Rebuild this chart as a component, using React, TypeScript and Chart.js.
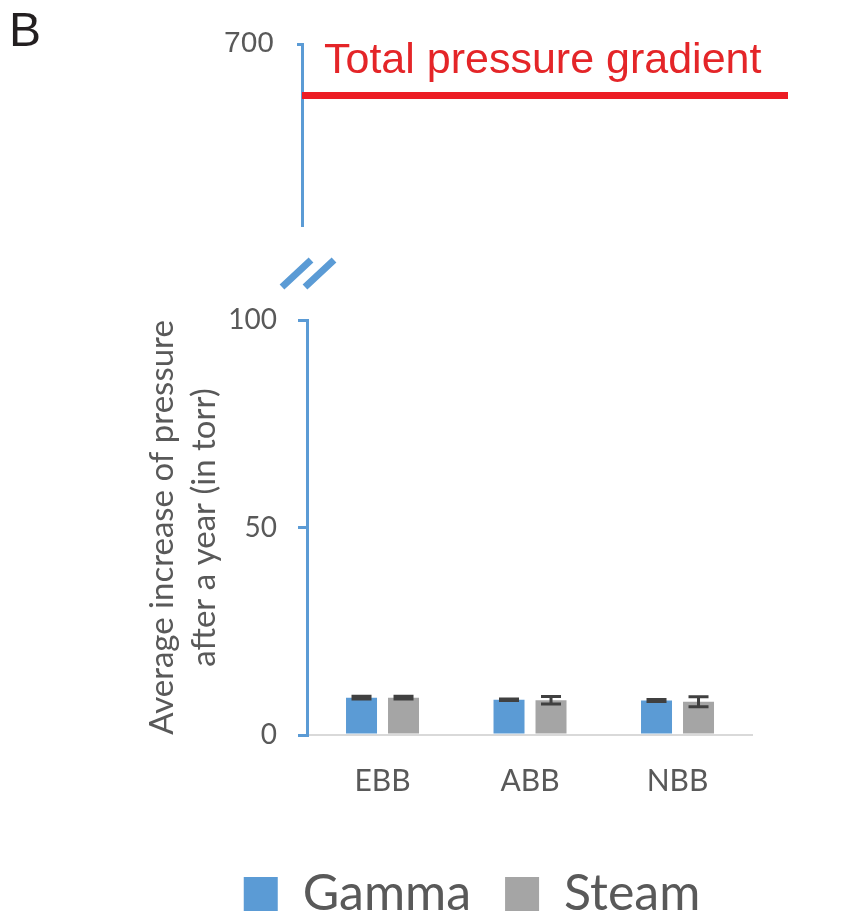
import React, { useEffect, useRef } from 'react';
import { Chart, registerables } from 'chart.js';

Chart.register(...registerables);

// ---- data ----
const categories = ['EBB', 'ABB', 'NBB'];
const seriesNames = ['Gamma', 'Steam'];
const gammaValues = [9.0, 8.5, 8.3];
const steamValues = [9.0, 8.4, 8.0];
const gammaErrors = [0.35, 0.2, 0.25];
const steamErrors = [0.35, 0.9, 1.2];
const lowerTicks = [0, 50, 100];
const upperTicks = [700];
const upperRange = [656, 700];
const gradientValue = 687.5;
const gradientLabel = 'Total pressure gradient';
const yTitle = ['Average increase of pressure', 'after a year (in torr)'];
const panelLabel = 'B';

// ---- styles ----
const BLUE = '#5B9BD5';
const GRAY = '#A5A5A5';
const TEXT = '#595959';
const RED = '#EC1C24';
const ERR = '#404040';

const errorSets = [gammaErrors, steamErrors];

const errorBarPlugin = {
  id: 'errorBars',
  afterDatasetsDraw(chart: any) {
    const ctx = chart.ctx;
    const y = chart.scales.y;
    chart.data.datasets.forEach((ds: any, di: number) => {
      const meta = chart.getDatasetMeta(di);
      const errs = errorSets[di];
      meta.data.forEach((bar: any, i: number) => {
        const v = ds.data[i].y;
        const e = errs[i];
        const top = y.getPixelForValue(v + e);
        const bot = y.getPixelForValue(v - e);
        ctx.save();
        ctx.strokeStyle = ERR;
        ctx.lineWidth = 3;
        ctx.beginPath();
        ctx.moveTo(bar.x, top);
        ctx.lineTo(bar.x, bot);
        ctx.moveTo(bar.x - 10, top);
        ctx.lineTo(bar.x + 10, top);
        ctx.moveTo(bar.x - 10, bot);
        ctx.lineTo(bar.x + 10, bot);
        ctx.stroke();
        ctx.restore();
      });
    });
  },
};

const gradientPlugin = {
  id: 'gradientDecor',
  afterDraw(chart: any) {
    const { ctx, chartArea, scales } = chart;
    const yPix = scales.y.getPixelForValue(gradientValue);
    ctx.save();
    ctx.fillStyle = '#E42528';
    ctx.font = '43px "Liberation Sans", Arial, sans-serif';
    ctx.textBaseline = 'alphabetic';
    ctx.textAlign = 'left';
    ctx.fillText(gradientLabel, chartArea.left + 22, yPix - 22);
    // axis break marks
    const L = chartArea.left;
    const B = chartArea.bottom;
    ctx.strokeStyle = BLUE;
    ctx.lineWidth = 7;
    ctx.lineCap = 'butt';
    ctx.beginPath();
    ctx.moveTo(L - 20, B + 62);
    ctx.lineTo(L + 9, B + 35);
    ctx.moveTo(L + 3, B + 62);
    ctx.lineTo(L + 32, B + 35);
    ctx.stroke();
    ctx.restore();
  },
};

export default function App() {
  const topRef = useRef<HTMLCanvasElement>(null);
  const botRef = useRef<HTMLCanvasElement>(null);

  useEffect(() => {
    const topChart = new Chart(topRef.current as HTMLCanvasElement, {
      type: 'line',
      data: {
        datasets: [
          {
            label: gradientLabel,
            data: [
              { x: 0, y: gradientValue },
              { x: 1, y: gradientValue },
            ],
            borderColor: RED,
            borderWidth: 7,
            pointRadius: 0,
            fill: false,
          },
        ],
      },
      options: {
        responsive: false,
        animation: false,
        layout: { padding: { left: 141, right: 75, top: 44, bottom: 75 } },
        plugins: { legend: { display: false }, tooltip: { enabled: false } },
        scales: {
          x: { type: 'linear', min: 0, max: 1, display: false },
          y: {
            min: upperRange[0],
            max: upperRange[1],
            afterBuildTicks: (s: any) => {
              s.ticks = upperTicks.map((v) => ({ value: v }));
            },
            afterFit: (s: any) => {
              s.width = 161;
            },
            grid: { drawOnChartArea: false, drawTicks: true, tickLength: 5, color: BLUE, lineWidth: 3 },
            border: { color: BLUE, width: 3 },
            ticks: {
              color: TEXT,
              font: { family: '"Liberation Sans", Arial, sans-serif', size: 30 },
              padding: 23,
            },
          },
        },
      } as any,
      plugins: [gradientPlugin],
    });

    const botChart = new Chart(botRef.current as HTMLCanvasElement, {
      type: 'bar',
      data: {
        datasets: [
          {
            label: seriesNames[0],
            data: categories.map((_, i) => ({ x: i, y: gammaValues[i] })),
            backgroundColor: BLUE,
            categoryPercentage: 0.5695,
            barPercentage: 0.738,
          },
          {
            label: seriesNames[1],
            data: categories.map((_, i) => ({ x: i, y: steamValues[i] })),
            backgroundColor: GRAY,
            categoryPercentage: 0.5695,
            barPercentage: 0.738,
          },
        ],
      },
      options: {
        responsive: false,
        animation: false,
        layout: { padding: { left: 141, right: 60, top: 320, bottom: 7 } },
        plugins: {
          legend: {
            position: 'bottom',
            labels: {
              boxWidth: 34,
              boxHeight: 34,
              padding: 34,
              color: TEXT,
              font: { family: 'Lato', size: 50 },
            },
          },
          tooltip: { enabled: false },
        },
        scales: {
          x: {
            type: 'linear',
            min: -0.512,
            max: 2.505,
            offset: false,
            afterBuildTicks: (s: any) => {
              s.ticks = categories.map((_, i) => ({ value: i }));
            },
            afterFit: (s: any) => {
              s.height = 100;
            },
            grid: { display: false, drawTicks: false },
            border: { display: true, color: '#D9D9D9', width: 2 },
            ticks: {
              callback: (v: any) => categories[v],
              color: TEXT,
              font: { family: 'Lato', size: 30 },
              padding: 28,
              autoSkip: false,
              maxRotation: 0,
            },
          },
          y: {
            min: 0,
            max: 100,
            afterBuildTicks: (s: any) => {
              s.ticks = lowerTicks.map((v) => ({ value: v }));
            },
            afterFit: (s: any) => {
              s.width = 166;
            },
            grid: { drawOnChartArea: false, drawTicks: true, tickLength: 9, color: BLUE, lineWidth: 3 },
            border: { color: BLUE, width: 3 },
            ticks: { color: TEXT, font: { family: 'Lato', size: 28 }, padding: 21 },
            title: {
              display: true,
              text: yTitle,
              color: TEXT,
              font: { family: 'Lato', size: 33, lineHeight: 1.28 },
              padding: 0,
            },
          },
          yR: {
            type: 'linear',
            position: 'right',
            display: true,
            afterFit: (s: any) => {
              s.width = 51;
            },
            ticks: { display: false },
            grid: { display: false },
            border: { display: false },
          },
        },
      } as any,
      plugins: [errorBarPlugin],
    });

    return () => {
      topChart.destroy();
      botChart.destroy();
    };
  }, []);

  return (
    <div
      style={{
        position: 'fixed',
        left: 0,
        top: 0,
        width: 863,
        height: 913,
        overflow: 'hidden',
        background: '#ffffff',
      }}
    >
      <canvas ref={botRef} width={863} height={936} style={{ position: 'absolute', left: 0, top: 0 }} />
      <canvas ref={topRef} width={863} height={300} style={{ position: 'absolute', left: 0, top: 0 }} />
      <div
        style={{
          position: 'absolute',
          left: 9,
          top: 2,
          font: '48px "Liberation Sans", Arial, sans-serif',
          color: '#231F20',
        }}
      >
        {panelLabel}
      </div>
    </div>
  );
}
